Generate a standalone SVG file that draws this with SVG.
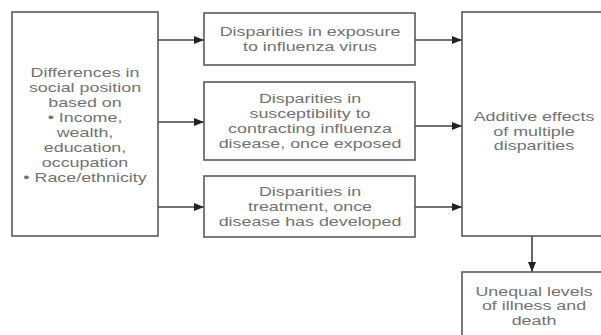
<svg xmlns="http://www.w3.org/2000/svg" width="601" height="335" viewBox="0 0 601 335">
<style>
.box{fill:#fff;stroke:#5a5a5a;stroke-width:1.6}
.t{font-family:"Liberation Sans",Arial,sans-serif;font-size:12.5px;fill:#727272;text-anchor:middle}
.c{stroke:#444;stroke-width:1.6;fill:none}
</style>
<defs>
<marker id="ah" viewBox="0 0 10 10" refX="10" refY="5" markerWidth="10" markerHeight="10" markerUnits="userSpaceOnUse" orient="auto">
<path d="M0,1 L10,5 L0,9 Z" fill="#222"/>
</marker>
</defs>
<rect width="601" height="335" fill="#fff"/>
<g id="connectors">
<line class="c" x1="158" y1="40" x2="204" y2="40" marker-end="url(#ah)"/>
<line class="c" x1="158" y1="122" x2="204" y2="122" marker-end="url(#ah)"/>
<line class="c" x1="158" y1="207" x2="204" y2="207" marker-end="url(#ah)"/>
<line class="c" x1="415" y1="40" x2="462" y2="40" marker-end="url(#ah)"/>
<line class="c" x1="415" y1="126" x2="462" y2="126" marker-end="url(#ah)"/>
<line class="c" x1="415" y1="207" x2="462" y2="207" marker-end="url(#ah)"/>
<line class="c" x1="532" y1="236" x2="532" y2="272" marker-end="url(#ah)"/>
</g>
<g id="social-position">
<rect class="box" x="12" y="12" width="146" height="224"/>
<g transform="translate(85 0) scale(1.43 1)">
<text class="t" x="0" y="77.5">Differences in</text>
<text class="t" x="0" y="92.5">social position</text>
<text class="t" x="0" y="107.5">based on</text>
<text class="t" x="0" y="122.5">• Income,</text>
<text class="t" x="0" y="137.5">wealth,</text>
<text class="t" x="0" y="152.5">education,</text>
<text class="t" x="0" y="167.5">occupation</text>
<text class="t" x="0" y="182.5">• Race/ethnicity</text>
</g>
</g>
<g id="exposure">
<rect class="box" x="204" y="13" width="211" height="52"/>
<g transform="translate(310 0) scale(1.43 1)">
<text class="t" x="0" y="36.5">Disparities in exposure</text>
<text class="t" x="0" y="51">to influenza virus</text>
</g>
</g>
<g id="susceptibility">
<rect class="box" x="204" y="82" width="211" height="78"/>
<g transform="translate(310 0) scale(1.43 1)">
<text class="t" x="0" y="103.5">Disparities in</text>
<text class="t" x="0" y="118">susceptibility to</text>
<text class="t" x="0" y="133">contracting influenza</text>
<text class="t" x="0" y="148">disease, once exposed</text>
</g>
</g>
<g id="treatment">
<rect class="box" x="204" y="176" width="211" height="61"/>
<g transform="translate(310 0) scale(1.43 1)">
<text class="t" x="0" y="196">Disparities in</text>
<text class="t" x="0" y="211">treatment, once</text>
<text class="t" x="0" y="226">disease has developed</text>
</g>
</g>
<g id="additive">
<rect class="box" x="462" y="12" width="150" height="224"/>
<g transform="translate(534 0) scale(1.43 1)">
<text class="t" x="0" y="121.5">Additive effects</text>
<text class="t" x="0" y="136">of multiple</text>
<text class="t" x="0" y="150.5">disparities</text>
</g>
</g>
<g id="unequal">
<rect class="box" x="462" y="272" width="150" height="80"/>
<g transform="translate(534 0) scale(1.43 1)">
<text class="t" x="0" y="296">Unequal levels</text>
<text class="t" x="0" y="310.5">of illness and</text>
<text class="t" x="0" y="325">death</text>
</g>
</g>
</svg>
